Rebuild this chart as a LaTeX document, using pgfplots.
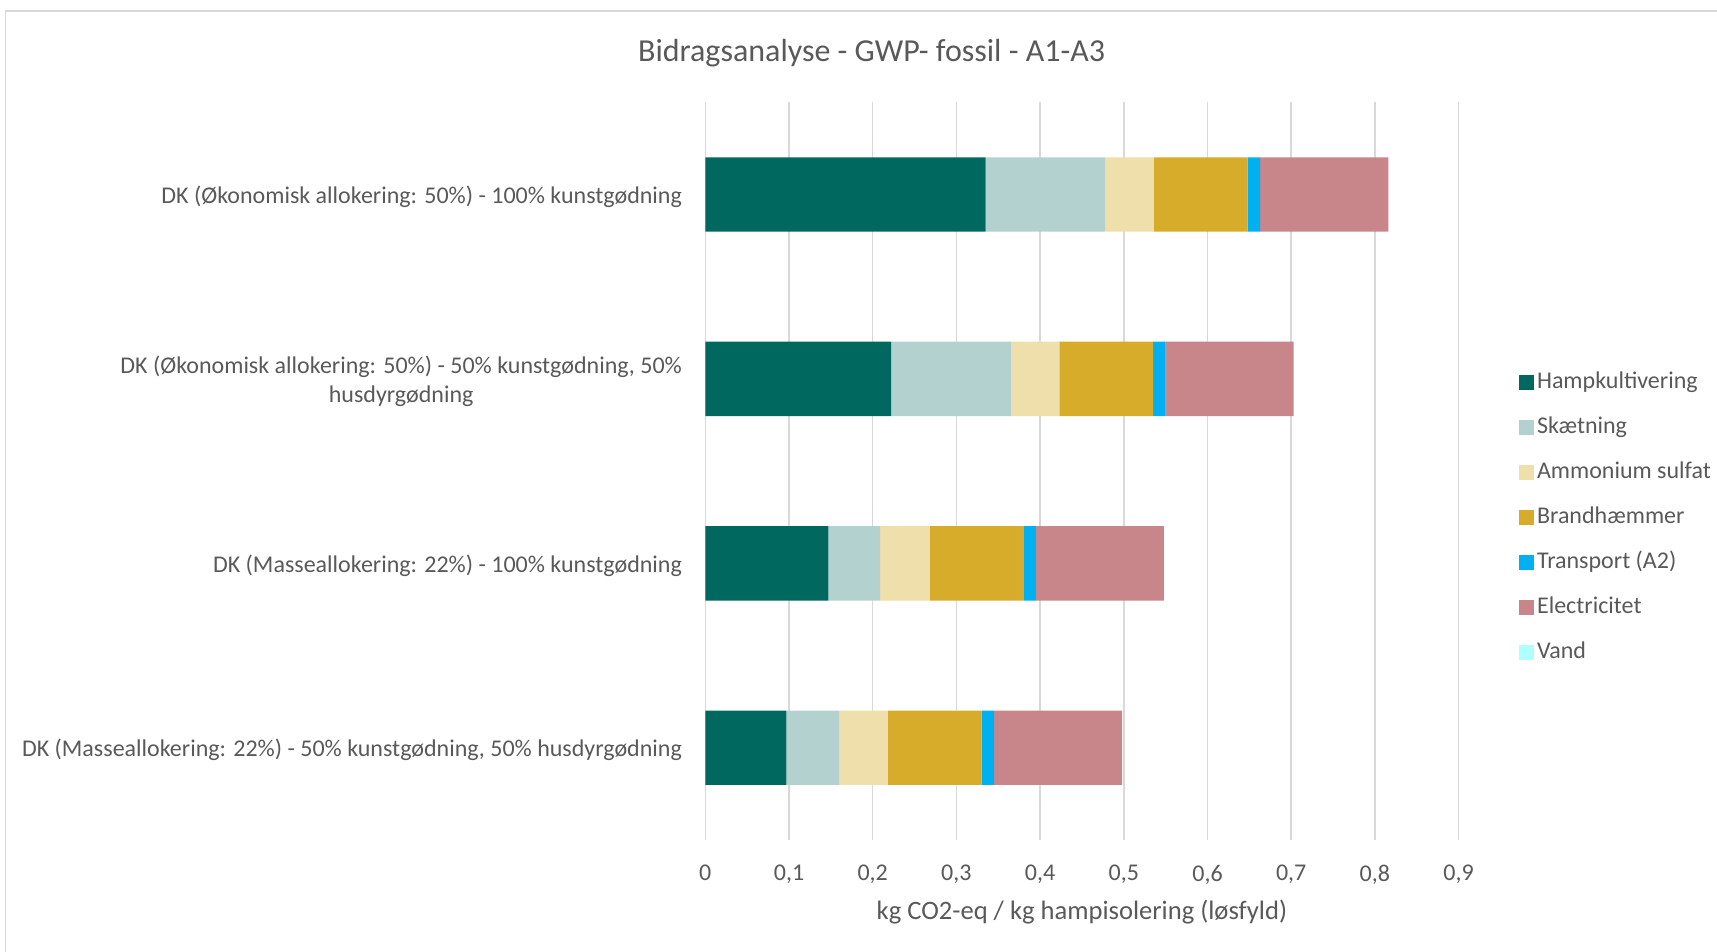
\documentclass[border=0pt]{standalone}
\usepackage{fontspec}
\setmainfont{Carlito}
\usepackage{pgfplots}
\pgfplotsset{compat=1.18}

\definecolor{txt}{RGB}{89,89,89}
\definecolor{gridc}{RGB}{217,217,217}
\definecolor{hamp}{RGB}{0,104,94}
\definecolor{skaet}{RGB}{179,209,207}
\definecolor{amm}{RGB}{239,223,170}
\definecolor{brand}{RGB}{214,172,42}
\definecolor{trans}{RGB}{0,176,240}
\definecolor{el}{RGB}{200,134,138}
\definecolor{vand}{RGB}{175,255,255}

\begin{document}
\begin{tikzpicture}
\useasboundingbox (0,0) rectangle (858.5pt,476pt);
% chart area frame (cut at right and bottom, as in the reference)
\draw[gridc, line width=0.8pt] (2.7pt,0) -- (2.7pt,470.5pt) -- (858.5pt,470.5pt);
\node[txt, font=\fontsize{16}{19}\selectfont] at (435.8pt,449.3pt) {Bidragsanalyse - GWP- fossil - A1-A3};

\begin{axis}[
    at={(352.65pt,56pt)}, anchor=south west,
    scale only axis,
    width=376.65pt, height=368.85pt,
    xbar stacked,
    bar width=37.2pt,
    xmin=0, xmax=0.9,
    ymin=-0.5, ymax=3.5,
    xtick={0,0.1,...,0.9},
    ytick={0,1,2,3},
    yticklabels={
        {DK (Masseallokering: 22\%) - 50\% kunstgødning, 50\% husdyrgødning},
        {DK (Masseallokering: 22\%) - 100\% kunstgødning},
        {DK (Økonomisk allokering: 50\%) - 50\% kunstgødning, 50\%\\husdyrgødning},
        {DK (Økonomisk allokering: 50\%) - 100\% kunstgødning}},
    xticklabel={\pgfmathprintnumber[fixed, use comma, precision=1]{\tick}},
    /pgf/number format/assume math mode=true,
    xmajorgrids,
    grid style={gridc, line width=0.8pt},
    axis line style={draw=none},
    major tick length=0pt,
    tick label style={txt, font=\fontsize{12}{14.5}\selectfont},
    yticklabel style={align=center, inner sep=0pt, xshift=-11.5pt, yshift=-1pt},
    xticklabel style={inner sep=0pt, yshift=-12.5pt},
    xlabel={kg CO2-eq / kg hampisolering (løsfyld)},
    xlabel style={txt, font=\fontsize{13.3}{16}\selectfont, at={(axis description cs:0.5,0)}, anchor=center, yshift=-36pt},
    legend style={draw=none, fill=none, at={(1.0723,0.437)}, anchor=west,
        font=\fontsize{12}{14.5}\selectfont, text=txt, row sep=8.4pt,
        nodes={inner sep=1.6pt, text height=8.4pt, text depth=2.5pt},
        legend image post style={xshift=-3.2pt}},
    legend cell align=left,
    legend image code/.code={\fill[#1] (0pt,-3.6pt) rectangle (7.2pt,3.6pt);},
]
\addplot[fill=hamp, draw=none] coordinates {(0.097,0) (0.147,1) (0.222,2) (0.335,3)};
\addlegendentry{Hampkultivering}
\addplot[fill=skaet, draw=none] coordinates {(0.063,0) (0.062,1) (0.143,2) (0.143,3)};
\addlegendentry{Skætning}
\addplot[fill=amm, draw=none] coordinates {(0.058,0) (0.059,1) (0.058,2) (0.058,3)};
\addlegendentry{Ammonium sulfat}
\addplot[fill=brand, draw=none] coordinates {(0.112,0) (0.112,1) (0.112,2) (0.112,3)};
\addlegendentry{Brandhæmmer}
\addplot[fill=trans, draw=none] coordinates {(0.015,0) (0.015,1) (0.015,2) (0.015,3)};
\addlegendentry{Transport (A2)}
\addplot[fill=el, draw=none] coordinates {(0.153,0) (0.153,1) (0.153,2) (0.153,3)};
\addlegendentry{Electricitet}
\addplot[fill=vand, draw=none] coordinates {(0,0) (0,1) (0,2) (0,3)};
\addlegendentry{Vand}
\end{axis}
\end{tikzpicture}
\end{document}
